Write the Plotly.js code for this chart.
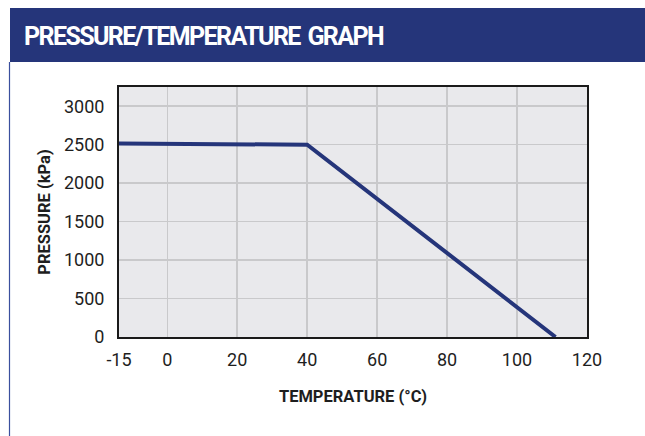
<!DOCTYPE html>
<html>
<head>
<meta charset="utf-8">
<script src="https://cdn.plot.ly/plotly-3.0.1.min.js"></script>
<style>
html,body{margin:0;padding:0;background:#fff;}
#chart{width:645px;height:436px;}
#chart .gtitle{letter-spacing:-1.6px;word-spacing:3px;}
</style>
</head>
<body>
<div id="chart"></div>
<script>
// Data
const temperature = [-15, 40, 111];        // °C
const pressure = [2515, 2500, 0];          // kPa
const xTickVals = [-13.8, 0, 20, 40, 60, 80, 100, 120];
const xTickText = ["-15", "0", "20", "40", "60", "80", "100", "120"];
const yTickVals = [0, 500, 1000, 1500, 2000, 2500, 3000];
const yTickText = ["0", "500", "1000", "1500", "2000", "2500", "3000"];

const FONT = "Roboto, 'Liberation Sans', Arial, sans-serif";
const NAVY = "#25357a";

const trace = {
  x: temperature, y: pressure, type: "scatter", mode: "lines",
  line: {color: NAVY, width: 4}, hoverinfo: "skip", showlegend: false
};

const layout = {
  width: 645, height: 436,
  margin: {l: 119, r: 58, t: 87, b: 99, pad: 0},
  paper_bgcolor: "#ffffff", plot_bgcolor: "#e9e9ec",
  font: {family: FONT, color: "#1e1e1e"},
  title: {
    text: "<b>PRESSURE/TEMPERATURE GRAPH</b>",
    font: {family: FONT, size: 25, color: "#ffffff"},
    xref: "container", x: 24/645, xanchor: "left",
    yref: "container", y: 1 - 36/436, yanchor: "middle"
  },
  xaxis: {
    range: [-13.8, 120], tickmode: "array", tickvals: xTickVals, ticktext: xTickText,
    showgrid: true, gridcolor: "#c9c9cb", gridwidth: 1.5,
    showline: true, linecolor: "#1a1a1a", linewidth: 2, mirror: true,
    ticks: "outside", ticklen: 5, tickcolor: "rgba(0,0,0,0)",
    tickfont: {family: FONT, size: 18, color: "#1e1e1e"},
    zeroline: false, fixedrange: true,
    title: {text: "<b>TEMPERATURE (°C)</b>", font: {family: FONT, size: 16.5, color: "#1e1e1e"}, standoff: 22}
  },
  yaxis: {
    range: [0, 3250], tickmode: "array", tickvals: yTickVals, ticktext: yTickText,
    showgrid: true, gridcolor: "#c9c9cb", gridwidth: 1.5,
    showline: true, linecolor: "#1a1a1a", linewidth: 2, mirror: true,
    ticks: "outside", ticklen: 9, tickcolor: "rgba(0,0,0,0)",
    tickfont: {family: FONT, size: 18, color: "#1e1e1e"},
    zeroline: false, fixedrange: true,
    title: {text: "<b>PRESSURE (kPa)</b>", font: {family: FONT, size: 16.5, color: "#1e1e1e"}, standoff: 9}
  },
  shapes: [
    {type: "rect", xref: "paper", yref: "paper", layer: "below",
     x0: (10-119)/468, x1: (646-119)/468, y0: (337-62)/250, y1: (337-8)/250,
     fillcolor: NAVY, line: {width: 0}},
    {type: "line", xref: "paper", yref: "paper", layer: "below",
     x0: (9.5-119)/468, x1: (9.5-119)/468, y0: (337-62)/250, y1: (337-437)/250,
     line: {color: "#3a4f9e", width: 1.2}}
  ]
};

Plotly.newPlot("chart", [trace], layout, {staticPlot: true, displayModeBar: false});
</script>
</body>
</html>
